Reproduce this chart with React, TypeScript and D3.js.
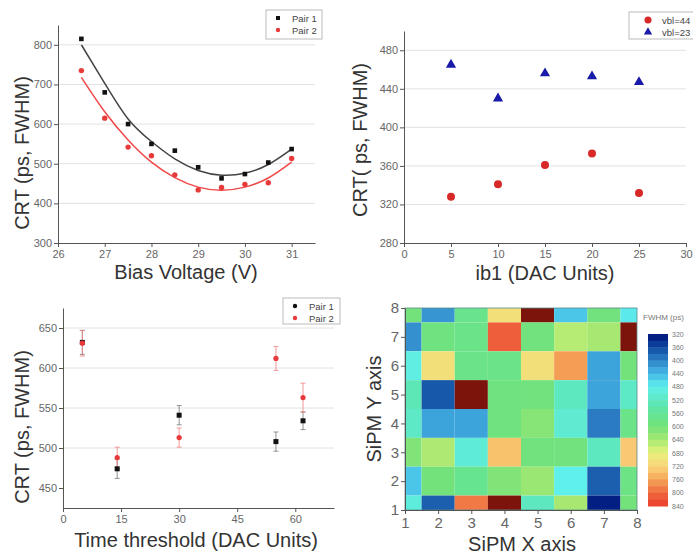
import React, { useRef, useEffect } from "react";
import * as d3 from "d3";

// top-left: CRT vs bias voltage
const biasVoltage = [26.5, 27, 27.5, 28, 28.5, 29, 29.5, 30, 30.5, 31];
const biasPair1 = [815, 680, 600, 550, 533, 491, 463, 474, 503, 537];
const biasPair2 = [735, 615, 542, 520, 472, 434, 440, 448, 452, 513];
const biasFit1 = [800, 703, 613, 556, 512, 483, 471, 476, 498, 537];
const biasFit2 = [718, 631, 560, 504, 465, 441, 433, 441, 464, 504];

// top-right: CRT vs ib1
const ib1 = [5, 10, 15, 20, 25];
const vbl44 = [328, 341, 361, 373, 332];
const vbl23 = [465, 430, 456, 453, 447];

// bottom-left: CRT vs time threshold
const threshold = [5, 14, 30, 55, 62];
const thrPair1 = [632, 474, 541, 508, 534];
const thrPair1Err = [15, 12, 12, 12, 11];
const thrPair2 = [631, 488, 513, 612, 563];
const thrPair2Err = [16, 13, 12, 15, 18];

// bottom-right: FWHM map, rows from Y=8 down to Y=1, columns X=1..8
const sipmX = [1, 2, 3, 4, 5, 6, 7, 8];
const sipmY = [8, 7, 6, 5, 4, 3, 2, 1];
const fwhmGrid = [
  [600, 415, 575, 705, 880, 450, 595, 475],
  [410, 590, 580, 810, 595, 650, 640, 880],
  [490, 705, 580, 580, 705, 765, 425, 600],
  [530, 370, 880, 590, 595, 520, 425, 515],
  [515, 425, 425, 590, 615, 505, 395, 580],
  [610, 645, 500, 735, 595, 595, 520, 730],
  [450, 600, 570, 610, 630, 480, 375, 585],
  [495, 375, 790, 880, 520, 640, 330, 600],
];
const colorbarTicks = [320, 360, 400, 440, 480, 520, 560, 600, 640, 680, 720, 760, 800, 840];
const colorStops = [320, 360, 400, 440, 480, 520, 560, 600, 640, 680, 720, 760, 800, 840];
const colorValues = [
  "#00107a", "#0f4aa0", "#2e82c6", "#45b8e6", "#5ff0ec", "#5de8c0",
  "#62e496", "#74e27a", "#a6e872", "#e6f27a", "#fad37a", "#f4a558",
  "#f06a40", "#ec3a2c",
];

const FONT = "'Liberation Sans', Arial, sans-serif";

export default function App() {
  const ref = useRef<SVGSVGElement>(null);

  useEffect(() => {
    const svg = d3.select(ref.current);
    svg.selectAll("*").remove();

    const styleAxis = (g: any, fs = 11) => {
      g.selectAll("path").attr("stroke", "#555");
      g.selectAll("line").attr("stroke", "#555");
      g.selectAll("text").attr("fill", "#666").style("font-family", FONT).style("font-size", fs + "px");
    };

    const axes = (x: any, y: any, xt: number[], xm: number[], yt: number[], ym: number[], grid: boolean, fs = 11) => {
      const [x0, x1] = x.range();
      const [y0] = y.range();
      if (grid) {
        svg.append("g")
          .selectAll("line")
          .data(yt.slice(1))
          .join("line")
          .attr("x1", x0).attr("x2", x1)
          .attr("y1", (d: number) => y(d)).attr("y2", (d: number) => y(d))
          .attr("stroke", "#e2e2e2");
      }
      const fmt = d3.format("d");
      const bx = svg.append("g").attr("transform", `translate(0,${y0})`);
      bx.call(d3.axisBottom(x).tickValues(xm).tickSize(2).tickFormat(() => "").tickSizeOuter(0));
      bx.call(d3.axisBottom(x).tickValues(xt).tickSize(4).tickSizeOuter(0).tickPadding(3).tickFormat(fmt));
      styleAxis(bx, fs);
      const ly = svg.append("g").attr("transform", `translate(${x0},0)`);
      ly.call(d3.axisLeft(y).tickValues(ym).tickSize(2).tickFormat(() => "").tickSizeOuter(0));
      ly.call(d3.axisLeft(y).tickValues(yt).tickSize(4).tickSizeOuter(0).tickPadding(2).tickFormat(fmt));
      styleAxis(ly, fs);
    };

    const title = (txt: string, x: number, y: number, rot = false, fs = 20) => {
      svg.append("text")
        .attr("transform", rot ? `translate(${x},${y}) rotate(-90)` : `translate(${x},${y})`)
        .attr("text-anchor", "middle")
        .attr("fill", "#333")
        .style("font-family", FONT)
        .style("font-size", fs + "px")
        .text(txt);
    };

    const legend = (x: number, y: number, w: number, h: number, items: { label: string; color: string; shape: string }[]) => {
      const g = svg.append("g").attr("transform", `translate(${x},${y})`);
      g.append("rect").attr("width", w).attr("height", h).attr("fill", "#fff").attr("stroke", "#bbb");
      items.forEach((it, i) => {
        const cy = 8 + i * 12;
        if (it.shape === "square") g.append("rect").attr("x", 10).attr("y", cy - 2).attr("width", 4).attr("height", 4).attr("fill", it.color);
        else if (it.shape === "tri") g.append("path").attr("transform", `translate(19,${cy})`).attr("d", d3.symbol(d3.symbolTriangle, 30)()).attr("fill", it.color);
        else g.append("circle").attr("cx", it.shape === "big" ? 19 : 12).attr("cy", cy).attr("r", it.shape === "big" ? 3.5 : 2.2).attr("fill", it.color);
        g.append("text").attr("x", it.shape === "tri" || it.shape === "big" ? 33 : 26).attr("y", cy + 3.5)
          .attr("fill", "#444").style("font-family", FONT).style("font-size", "9.5px").text(it.label);
      });
    };

    // ---------- Panel 1: bias voltage
    const x1 = d3.scaleLinear().domain([26, 31.5]).range([58, 315]);
    const y1 = d3.scaleLinear().domain([300, 850]).range([243, 25]);
    axes(x1, y1, d3.range(26, 32, 1), d3.range(26.5, 31.6, 1), d3.range(300, 801, 100), d3.range(350, 851, 100), true);
    const line1 = d3.line<number>().x((_, i) => x1(biasVoltage[i])).y((d) => y1(d)).curve(d3.curveNatural);
    svg.append("path").attr("d", line1(biasFit1)).attr("fill", "none").attr("stroke", "#444").attr("stroke-width", 1.5);
    svg.append("path").attr("d", line1(biasFit2)).attr("fill", "none").attr("stroke", "#f04848").attr("stroke-width", 1.5);
    svg.append("g").selectAll("rect").data(biasPair1).join("rect")
      .attr("x", (_, i) => x1(biasVoltage[i]) - 2.3).attr("y", (d) => y1(d) - 2.3)
      .attr("width", 4.6).attr("height", 4.6).attr("fill", "#111");
    svg.append("g").selectAll("circle").data(biasPair2).join("circle")
      .attr("cx", (_, i) => x1(biasVoltage[i])).attr("cy", (d) => y1(d)).attr("r", 2.7).attr("fill", "#e83a3a");
    legend(266, 10, 56, 29, [
      { label: "Pair 1", color: "#111", shape: "square" },
      { label: "Pair 2", color: "#e83a3a", shape: "circle" },
    ]);
    title("CRT (ps, FWHM)", 29, 153, true);
    title("Bias Voltage (V)", 186, 279);

    // ---------- Panel 2: ib1
    const x2 = d3.scaleLinear().domain([0, 30]).range([404, 686]);
    const y2 = d3.scaleLinear().domain([280, 500]).range([243, 31]);
    axes(x2, y2, d3.range(0, 31, 5), d3.range(2.5, 30, 5), d3.range(280, 481, 40), d3.range(300, 500, 40), true);
    svg.append("g").selectAll("path").data(vbl23).join("path")
      .attr("transform", (d, i) => `translate(${x2(ib1[i])},${y2(d)})`)
      .attr("d", d3.symbol(d3.symbolTriangle, 45)()).attr("fill", "#1a1aa8");
    svg.append("g").selectAll("circle").data(vbl44).join("circle")
      .attr("cx", (_, i) => x2(ib1[i])).attr("cy", (d) => y2(d)).attr("r", 4).attr("fill", "#d82828");
    legend(629, 12, 70, 27, [
      { label: "vbl=44", color: "#d82828", shape: "big" },
      { label: "vbl=23", color: "#1a1aa8", shape: "tri" },
    ]);
    title("CRT( ps, FWHM)", 367, 140, true);
    title("ib1 (DAC Units)", 545, 280);

    // ---------- Panel 3: time threshold
    const x3 = d3.scaleLinear().domain([0, 70]).range([63, 334]);
    const y3 = d3.scaleLinear().domain([425, 675]).range([508, 308]);
    axes(x3, y3, d3.range(0, 61, 15), d3.range(7.5, 70, 15), d3.range(450, 651, 50), d3.range(475, 676, 50), true);
    const errBars = (vals: number[], errs: number[], color: string) => {
      const g = svg.append("g").attr("stroke", color).attr("stroke-width", 0.8);
      vals.forEach((v, i) => {
        const cx = x3(threshold[i]);
        g.append("line").attr("x1", cx).attr("x2", cx).attr("y1", y3(v - errs[i])).attr("y2", y3(v + errs[i]));
        g.append("line").attr("x1", cx - 2.5).attr("x2", cx + 2.5).attr("y1", y3(v - errs[i])).attr("y2", y3(v - errs[i]));
        g.append("line").attr("x1", cx - 2.5).attr("x2", cx + 2.5).attr("y1", y3(v + errs[i])).attr("y2", y3(v + errs[i]));
      });
    };
    errBars(thrPair1, thrPair1Err, "#777");
    errBars(thrPair2, thrPair2Err, "#f08080");
    svg.append("g").selectAll("rect").data(thrPair1).join("rect")
      .attr("x", (_, i) => x3(threshold[i]) - 2.5).attr("y", (d) => y3(d) - 2.5)
      .attr("width", 5).attr("height", 5).attr("fill", "#111");
    svg.append("g").selectAll("circle").data(thrPair2).join("circle")
      .attr("cx", (_, i) => x3(threshold[i])).attr("cy", (d) => y3(d)).attr("r", 2.6).attr("fill", "#e83a3a");
    legend(283, 298, 57, 26, [
      { label: "Pair 1", color: "#111", shape: "circle" },
      { label: "Pair 2", color: "#e83a3a", shape: "circle" },
    ]);
    title("CRT (ps, FWHM)", 29, 427, true);
    title("Time threshold (DAC Units)", 196, 547);

    // ---------- Panel 4: heat map
    const x4 = d3.scaleLinear().domain([1, 8]).range([405, 637]);
    const y4 = d3.scaleLinear().domain([1, 8]).range([510, 308]);
    const col = d3.scaleLinear<string>().domain(colorStops).range(colorValues).clamp(true);
    const cellColor = (v: number) => (v > 850 ? "#7c140c" : col(v));
    const g4 = svg.append("g");
    fwhmGrid.forEach((row, r) => {
      row.forEach((v, c) => {
        const cx = sipmX[c], cy = sipmY[r];
        const xa = x4(Math.max(1, cx - 0.5)), xb = x4(Math.min(8, cx + 0.5));
        const ya = y4(Math.min(8, cy + 0.5)), yb = y4(Math.max(1, cy - 0.5));
        g4.append("rect").attr("x", xa).attr("y", ya).attr("width", xb - xa).attr("height", yb - ya).attr("fill", cellColor(v));
      });
    });
    svg.append("rect").attr("x", 405).attr("y", 308).attr("width", 232).attr("height", 202)
      .attr("fill", "none").attr("stroke", "#5a8a8a").attr("stroke-width", 0.8);
    axes(x4, y4, sipmX, d3.range(1.5, 8, 1), sipmX, d3.range(1.5, 8, 1), false, 15);
    title("SiPM Y axis", 381, 409, true, 20);
    title("SiPM X axis", 522, 551, false, 20);

    // colorbar
    const cb = d3.scaleLinear().domain([320, 840]).range([334, 506]);
    const bands = d3.range(320, 840, 20);
    svg.append("g").selectAll("rect").data(bands).join("rect")
      .attr("x", 648).attr("width", 20)
      .attr("y", (d) => cb(d)).attr("height", (d) => cb(d + 20) - cb(d) + 0.5)
      .attr("fill", (d) => col(d + 10));
    svg.append("g").selectAll("text").data(colorbarTicks).join("text")
      .attr("x", 672).attr("y", (d) => cb(d) + 2.5)
      .attr("fill", "#777").style("font-family", FONT).style("font-size", "7px")
      .text((d) => d);
    svg.append("text").attr("x", 643).attr("y", 320).attr("fill", "#777")
      .style("font-family", FONT).style("font-size", "8px").text("FWHM (ps)");
  }, []);

  return (
    <svg
      ref={ref}
      width={693}
      height={555}
      style={{ position: "absolute", left: 0, top: 0, background: "#fff" }}
    />
  );
}
